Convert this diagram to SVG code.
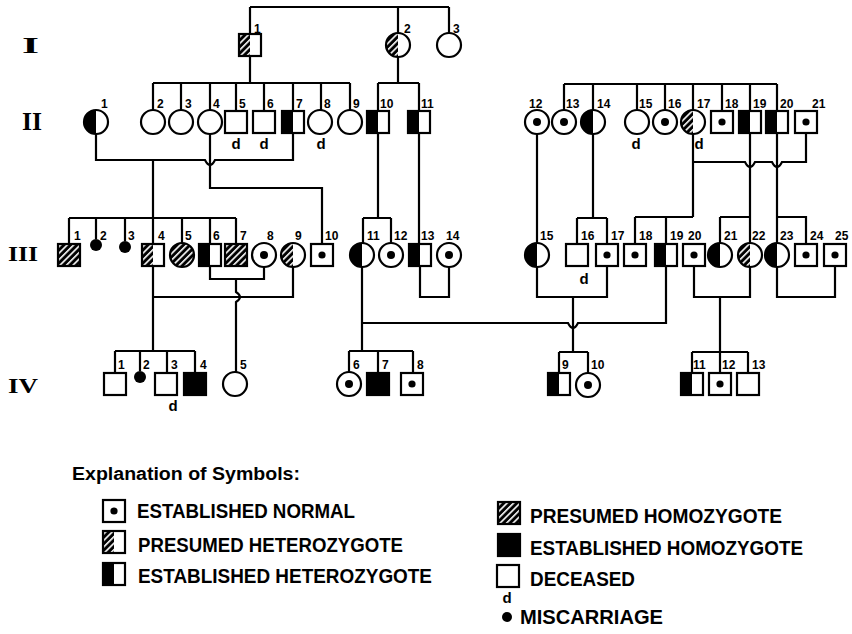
<svg xmlns="http://www.w3.org/2000/svg" xmlns:xlink="http://www.w3.org/1999/xlink" width="852" height="634" viewBox="0 0 852 634">
<style>
.o{fill:none;stroke:#000;stroke-width:2.2}
.s{fill:#fff;stroke:#000;stroke-width:2.2}
#connectors path{fill:none;stroke:#000;stroke-width:2.2}
text{font-family:"Liberation Sans",Arial,sans-serif;font-weight:bold;fill:#000}
.n{font-size:12px}
.d{font-size:15px}
.lg{font-size:21px}
.rn{font-family:"Liberation Serif","Times New Roman",serif}
</style>
<defs>
<pattern id="hp" width="4.6" height="4.6" patternUnits="userSpaceOnUse" patternTransform="rotate(45)"><rect width="4.6" height="4.6" fill="#000"/><rect width="1.6" height="4.6" fill="#fff"/></pattern>
<g id="sq"><rect class="s" x="-11" y="-11" width="22" height="22"/></g>
<g id="sqD"><rect class="s" x="-11" y="-11" width="22" height="22"/><circle r="3.6"/></g>
<g id="sqH"><rect fill="#fff" x="-11" y="-11" width="22" height="22"/><rect fill="#000" x="-11" y="-11" width="11" height="22"/><rect class="o" x="-11" y="-11" width="22" height="22"/></g>
<g id="sqPH"><rect fill="#fff" x="-11" y="-11" width="22" height="22"/><rect fill="url(#hp)" x="-11" y="-11" width="11" height="22"/><rect class="o" x="-11" y="-11" width="22" height="22"/></g>
<g id="sqPO"><rect fill="url(#hp)" x="-11" y="-11" width="22" height="22"/><rect class="o" x="-11" y="-11" width="22" height="22"/></g>
<g id="sqO"><rect fill="#000" stroke="#000" stroke-width="2.2" x="-11" y="-11" width="22" height="22"/></g>
<g id="ci"><circle class="s" r="12"/></g>
<g id="ciD"><circle class="s" r="12"/><circle r="4"/></g>
<g id="ciH"><circle fill="#fff" r="12"/><path d="M0,-12A12,12 0 0 0 0,12Z" fill="#000"/><circle class="o" r="12"/></g>
<g id="ciPH"><circle fill="#fff" r="12"/><path d="M0,-12A12,12 0 0 0 0,12Z" fill="url(#hp)"/><circle class="o" r="12"/></g>
<g id="ciPO"><circle fill="url(#hp)" r="12"/><circle class="o" r="12"/></g>
<g id="mis"><circle r="6"/></g>
</defs>
<rect width="852" height="634" fill="#fff"/>

<g id="generation-labels" class="rn">
<text class="rn" x="22" y="53" font-size="24" textLength="17" lengthAdjust="spacingAndGlyphs">I</text>
<text class="rn" x="22" y="130" font-size="25" textLength="20" lengthAdjust="spacingAndGlyphs">II</text>
<text class="rn" x="8" y="261" font-size="20" textLength="30" lengthAdjust="spacingAndGlyphs">III</text>
<text class="rn" x="8" y="393" font-size="20" textLength="30" lengthAdjust="spacingAndGlyphs">IV</text>
</g>

<g id="connectors">
<path d="M250,7H449M250,7V34M398,7V33M449,7V33"/>
<path d="M250,56V83M153,83H350M153,83V110M181,83V110M210,83V110M236,83V111M264,83V111M293,83V111M321,83V110M350,83V110"/>
<path d="M398,57V83M378,83H419M378,83V111M419,83V111"/>
<path d="M564,84H777M564,84V110M593,84V110M637,84V110M665,84V110M693,84V110M722,84V111M750,84V111M777,84V111"/>
<path d="M96,134V160H205Q210,170 215,160H293V133"/>
<path d="M210,134V188H322V244"/>
<path d="M153,160V244M69,218H236M69,218V244M96,218V239M125,218V241M182,218V243M210,218V244M236,218V244"/>
<path d="M153,266V351M153,297H293V267"/>
<path d="M210,266V279H264V267M236,279V292Q244,297 236,302V372"/>
<path d="M115,351H195M115,351V373M140,351V371M167,351V373M195,351V373"/>
<path d="M378,133V218M363,218H391M363,218V243M391,218V243"/>
<path d="M419,133V244M420,266V297H449V267"/>
<path d="M362,267V351M349,351H413M349,351V372M378,351V373M413,351V373"/>
<path d="M362,323H568Q573,333 578,323H666V266"/>
<path d="M537,134V243"/>
<path d="M593,134V218M577,218H607M577,218V244M607,218V244"/>
<path d="M537,267V297H607V266M573,297V352M559,352H588M559,352V373M588,352V373"/>
<path d="M693,134V217M693,162H745Q750,172 755,162H772Q777,172 782,162H806V133"/>
<path d="M635,217H693M635,217V244M666,217V244"/>
<path d="M750,133V243M720,217H750M720,217V243"/>
<path d="M777,133V243M777,217H806V244"/>
<path d="M694,266V297H750V267M720,297V352M692,352H748M692,352V373M720,352V373M748,352V373"/>
<path d="M777,267V297H835V266"/>
</g>

<g id="gen-I">
<g id="I-1"><use href="#sqPH" x="250" y="45"/><text class="n" x="254" y="33">1</text></g>
<g id="I-2"><use href="#ciPH" x="398" y="45"/><text class="n" x="404" y="33">2</text></g>
<g id="I-3"><use href="#ci" x="449" y="45"/><text class="n" x="453" y="33">3</text></g>
</g>

<g id="gen-II">
<g id="II-1"><use href="#ciH" x="96" y="122"/><text class="n" x="101" y="108">1</text></g>
<g id="II-2"><use href="#ci" x="153" y="122"/><text class="n" x="157" y="108">2</text></g>
<g id="II-3"><use href="#ci" x="181" y="122"/><text class="n" x="185" y="108">3</text></g>
<g id="II-4"><use href="#ci" x="210" y="122"/><text class="n" x="213" y="108">4</text></g>
<g id="II-5"><use href="#sq" x="236" y="122"/><text class="n" x="239" y="108">5</text><text class="d" x="236" y="149" text-anchor="middle">d</text></g>
<g id="II-6"><use href="#sq" x="264" y="122"/><text class="n" x="267" y="108">6</text><text class="d" x="264" y="149" text-anchor="middle">d</text></g>
<g id="II-7"><use href="#sqH" x="293" y="122"/><text class="n" x="296" y="108">7</text></g>
<g id="II-8"><use href="#ci" x="320" y="122"/><text class="n" x="324" y="108">8</text><text class="d" x="321" y="149" text-anchor="middle">d</text></g>
<g id="II-9"><use href="#ci" x="350" y="122"/><text class="n" x="353" y="108">9</text></g>
<g id="II-10"><use href="#sqH" x="378" y="122"/><text class="n" x="380" y="108">10</text></g>
<g id="II-11"><use href="#sqH" x="419" y="122"/><text class="n" x="421" y="108">11</text></g>
<g id="II-12"><use href="#ciD" x="537" y="122"/><text class="n" x="529" y="108">12</text></g>
<g id="II-13"><use href="#ciD" x="564" y="122"/><text class="n" x="566" y="108">13</text></g>
<g id="II-14"><use href="#ciH" x="593" y="122"/><text class="n" x="597" y="108">14</text></g>
<g id="II-15"><use href="#ci" x="637" y="122"/><text class="n" x="639" y="108">15</text><text class="d" x="636" y="149" text-anchor="middle">d</text></g>
<g id="II-16"><use href="#ciD" x="665" y="122"/><text class="n" x="668" y="108">16</text></g>
<g id="II-17"><use href="#ciPH" x="693" y="122"/><text class="n" x="697" y="108">17</text><text class="d" x="699" y="149" text-anchor="middle">d</text></g>
<g id="II-18"><use href="#sqD" x="722" y="122"/><text class="n" x="725" y="108">18</text></g>
<g id="II-19"><use href="#sqH" x="750" y="122"/><text class="n" x="753" y="108">19</text></g>
<g id="II-20"><use href="#sqH" x="777" y="122"/><text class="n" x="780" y="108">20</text></g>
<g id="II-21"><use href="#sqD" x="806" y="122"/><text class="n" x="812" y="108">21</text></g>
</g>

<g id="gen-III">
<g id="III-1"><use href="#sqPO" x="69" y="255"/><text class="n" x="74" y="240">1</text></g>
<g id="III-2"><use href="#mis" x="96" y="245"/><text class="n" x="100" y="240">2</text></g>
<g id="III-3"><use href="#mis" x="125" y="247"/><text class="n" x="128" y="240">3</text></g>
<g id="III-4"><use href="#sqPH" x="153" y="255"/><text class="n" x="158" y="240">4</text></g>
<g id="III-5"><use href="#ciPO" x="182" y="255"/><text class="n" x="185" y="240">5</text></g>
<g id="III-6"><use href="#sqH" x="210" y="255"/><text class="n" x="213" y="240">6</text></g>
<g id="III-7"><use href="#sqPO" x="236" y="255"/><text class="n" x="240" y="240">7</text></g>
<g id="III-8"><use href="#ciD" x="264" y="255"/><text class="n" x="267" y="240">8</text></g>
<g id="III-9"><use href="#ciPH" x="293" y="255"/><text class="n" x="295" y="240">9</text></g>
<g id="III-10"><use href="#sqD" x="322" y="255"/><text class="n" x="325" y="240">10</text></g>
<g id="III-11"><use href="#ciH" x="362" y="255"/><text class="n" x="367" y="240">11</text></g>
<g id="III-12"><use href="#ciD" x="391" y="255"/><text class="n" x="394" y="240">12</text></g>
<g id="III-13"><use href="#sqH" x="420" y="255"/><text class="n" x="421" y="240">13</text></g>
<g id="III-14"><use href="#ciD" x="449" y="255"/><text class="n" x="446" y="240">14</text></g>
<g id="III-15"><use href="#ciH" x="537" y="255"/><text class="n" x="540" y="240">15</text></g>
<g id="III-16"><use href="#sq" x="577" y="255"/><text class="n" x="581" y="240">16</text><text class="d" x="584" y="284" text-anchor="middle">d</text></g>
<g id="III-17"><use href="#sqD" x="607" y="255"/><text class="n" x="611" y="240">17</text></g>
<g id="III-18"><use href="#sqD" x="635" y="255"/><text class="n" x="639" y="240">18</text></g>
<g id="III-19"><use href="#sqH" x="666" y="255"/><text class="n" x="670" y="240">19</text></g>
<g id="III-20"><use href="#sqD" x="694" y="255"/><text class="n" x="688" y="240">20</text></g>
<g id="III-21"><use href="#ciH" x="720" y="255"/><text class="n" x="724" y="240">21</text></g>
<g id="III-22"><use href="#ciPH" x="750" y="255"/><text class="n" x="752" y="240">22</text></g>
<g id="III-23"><use href="#ciH" x="777" y="255"/><text class="n" x="780" y="240">23</text></g>
<g id="III-24"><use href="#sqD" x="806" y="255"/><text class="n" x="810" y="240">24</text></g>
<g id="III-25"><use href="#sqD" x="835" y="255"/><text class="n" x="835" y="240">25</text></g>
</g>

<g id="gen-IV">
<g id="IV-1"><use href="#sq" x="115" y="384"/><text class="n" x="118" y="369">1</text></g>
<g id="IV-2"><use href="#mis" x="140" y="377"/><text class="n" x="143" y="369">2</text></g>
<g id="IV-3"><use href="#sq" x="166" y="384"/><text class="n" x="171" y="369">3</text><text class="d" x="173" y="411" text-anchor="middle">d</text></g>
<g id="IV-4"><use href="#sqO" x="195" y="384"/><text class="n" x="200" y="369">4</text></g>
<g id="IV-5"><use href="#ci" x="235" y="384"/><text class="n" x="240" y="369">5</text></g>
<g id="IV-6"><use href="#ciD" x="349" y="384"/><text class="n" x="353" y="369">6</text></g>
<g id="IV-7"><use href="#sqO" x="378" y="384"/><text class="n" x="382" y="369">7</text></g>
<g id="IV-8"><use href="#sqD" x="412" y="384"/><text class="n" x="417" y="369">8</text></g>
<g id="IV-9"><use href="#sqH" x="559" y="384"/><text class="n" x="562" y="369">9</text></g>
<g id="IV-10"><use href="#ciD" x="588" y="385"/><text class="n" x="591" y="369">10</text></g>
<g id="IV-11"><use href="#sqH" x="692" y="384"/><text class="n" x="693" y="369">11</text></g>
<g id="IV-12"><use href="#sqD" x="720" y="384"/><text class="n" x="722" y="369">12</text></g>
<g id="IV-13"><use href="#sq" x="748" y="384"/><text class="n" x="752" y="369">13</text></g>
</g>

<g id="legend">
<text x="72" y="480" font-size="18" textLength="228" lengthAdjust="spacingAndGlyphs">Explanation of Symbols:</text>
<use href="#sqD" x="114" y="511"/>
<text class="lg" x="137" y="518" textLength="218" lengthAdjust="spacingAndGlyphs">ESTABLISHED NORMAL</text>
<use href="#sqPH" x="114" y="542"/>
<text class="lg" x="138" y="552" textLength="265" lengthAdjust="spacingAndGlyphs">PRESUMED HETEROZYGOTE</text>
<use href="#sqH" x="114" y="574"/>
<text class="lg" x="138" y="583" textLength="294" lengthAdjust="spacingAndGlyphs">ESTABLISHED HETEROZYGOTE</text>
<use href="#sqPO" x="509" y="513"/>
<text class="lg" x="530" y="523" textLength="252" lengthAdjust="spacingAndGlyphs">PRESUMED HOMOZYGOTE</text>
<use href="#sqO" x="509" y="545"/>
<text class="lg" x="530" y="555" textLength="273" lengthAdjust="spacingAndGlyphs">ESTABLISHED HOMOZYGOTE</text>
<use href="#sq" x="508" y="576"/>
<text class="lg" x="530" y="586" textLength="105" lengthAdjust="spacingAndGlyphs">DECEASED</text>
<text class="d" x="507" y="603" text-anchor="middle">d</text>
<circle cx="507" cy="617" r="5"/>
<text class="lg" x="520" y="624" textLength="143" lengthAdjust="spacingAndGlyphs">MISCARRIAGE</text>
</g>
</svg>
